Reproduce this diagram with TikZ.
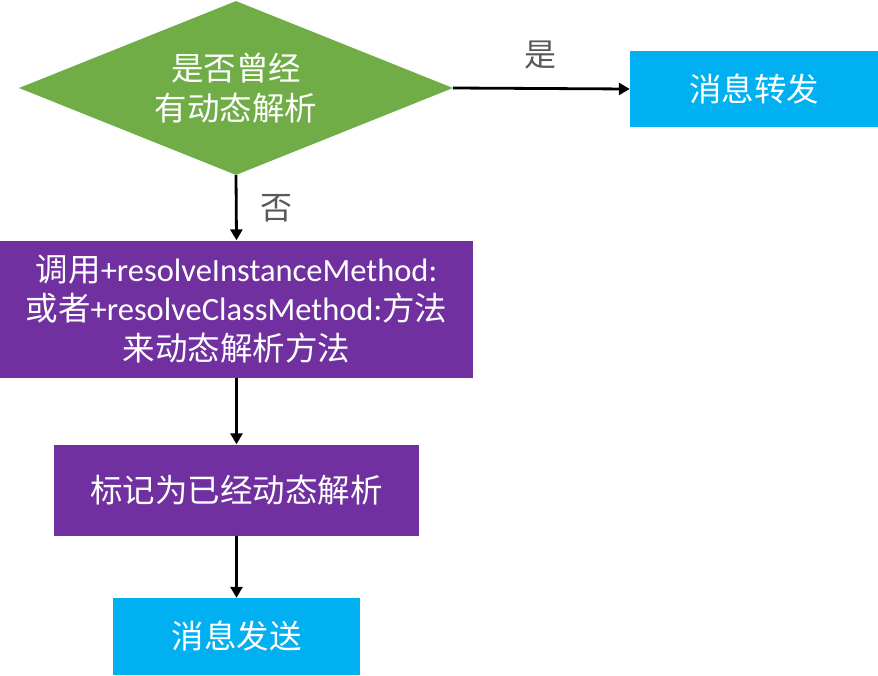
\documentclass[tikz,border=0pt]{standalone}
\usepackage{fontspec}
\setmainfont{Carlito}
\newfontfamily\cjk{Noto Sans CJK SC}
\usepackage{xcolor}
\usetikzlibrary{arrows.meta,shapes.geometric}
\definecolor{decgreen}{HTML}{70AD47}
\definecolor{msgblue}{HTML}{00B0F0}
\definecolor{stepviolet}{HTML}{7030A0}
\definecolor{labelgray}{HTML}{595959}

\tikzset{
  boxtext/.style={text=white,font=\fontsize{32.5}{39.5}\selectfont\cjk,align=center,inner sep=0pt},
  msgbox/.style={boxtext,fill=msgblue},
  stepbox/.style={boxtext,fill=stepviolet},
  decision/.style={boxtext,diamond,fill=decgreen,aspect=2.5},
  flow/.style={line width=2.8pt,-{Triangle[length=11pt,width=12pt]}},
  answer/.style={text=labelgray,font=\fontsize{32}{36}\selectfont\cjk}
}

\begin{document}
\begin{tikzpicture}[x=1pt,y=1pt]
 \useasboundingbox (0,0) rectangle (878,-675);
 \node[decision,minimum width=434pt,minimum height=174pt] (resolved) at (236,-88) {是否曾经\\有动态解析};
 \node[msgbox,minimum width=248pt,minimum height=76pt] (forward) at (754,-89) {消息转发};
 \node[stepbox,minimum width=473pt,minimum height=137pt] (resolve) at (236.5,-309)
   {调用{\rmfamily +resolveInstanceMethod:}\\或者{\rmfamily +resolveClassMethod:}方法\\来动态解析方法};
 \node[stepbox,minimum width=365pt,minimum height=91pt] (mark) at (236.5,-490) {标记为已经动态解析};
 \node[msgbox,minimum width=247pt,minimum height=77pt] (send) at (236.5,-636.5) {消息发送};

 \draw[flow] (resolved.east) -- (forward.west);
 \draw[flow] (resolved.south) -- (resolve.north);
 \draw[flow] (resolve.south) -- (mark.north);
 \draw[flow] (mark.south) -- (send.north);

 \node[answer] (yes) at (540,-55) {是};
 \node[answer] (no) at (276,-208) {否};
\end{tikzpicture}
\end{document}
